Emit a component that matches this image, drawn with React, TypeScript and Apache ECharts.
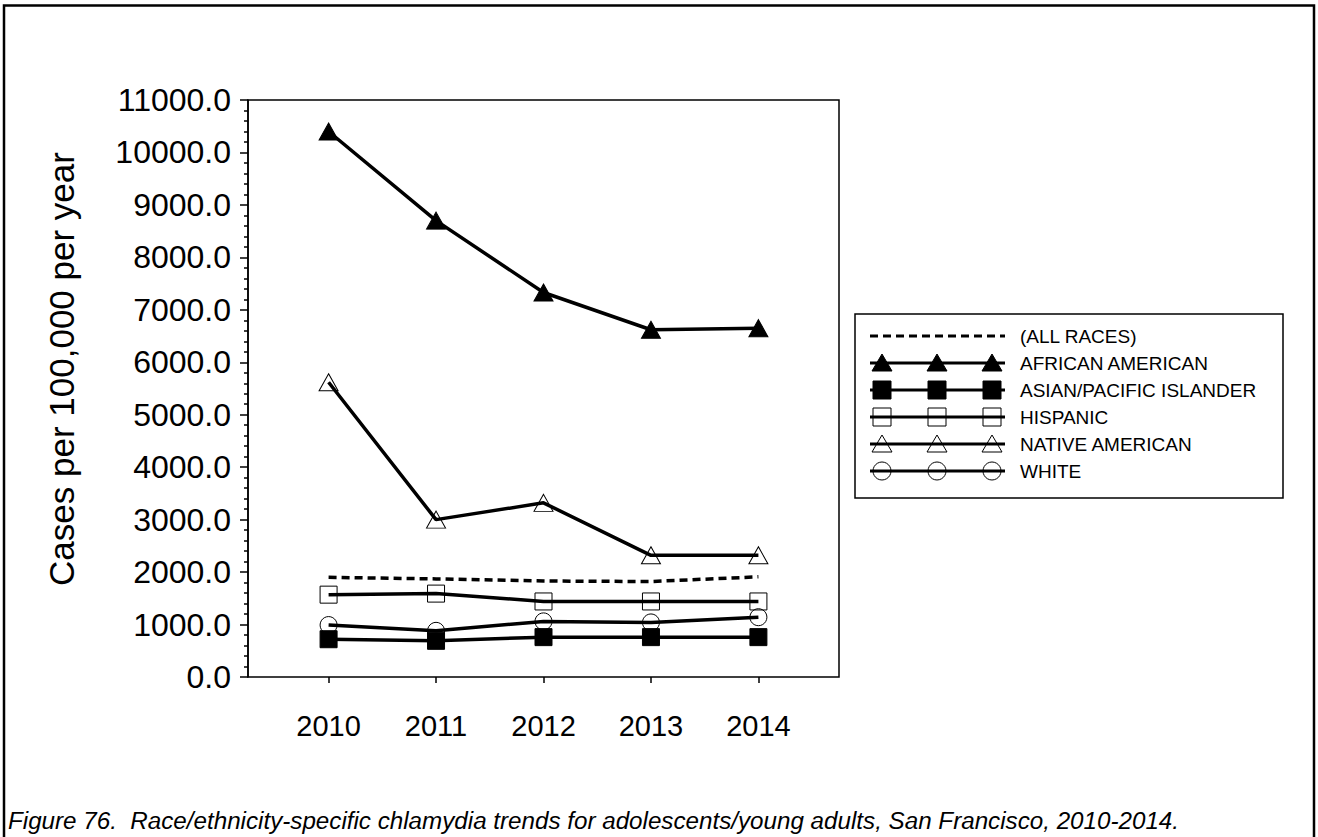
import React, { useEffect, useRef } from "react";
import * as echarts from "echarts";

const years = [2010, 2011, 2012, 2013, 2014];
const allRaces = [1900, 1870, 1830, 1820, 1910];
const africanAmerican = [10400, 8700, 7330, 6620, 6650];
const asianPacificIslander = [720, 690, 760, 760, 760];
const hispanic = [1570, 1590, 1440, 1440, 1440];
const nativeAmerican = [5620, 3000, 3320, 2320, 2320];
const white = [990, 880, 1060, 1040, 1140];

const yTicks = { min: 0, max: 11000, interval: 1000 };
const yTitle = "Cases per 100,000 per year";
const caption =
  "Figure 76.  Race/ethnicity-specific chlamydia trends for adolescents/young adults, San Francisco, 2010-2014.";

type Mark = "none" | "triangle" | "rect" | "circle";
const seriesDefs: { name: string; values: number[]; mark: Mark; filled: boolean; dashed: boolean }[] = [
  { name: "(ALL RACES)", values: allRaces, mark: "none", filled: false, dashed: true },
  { name: "AFRICAN AMERICAN", values: africanAmerican, mark: "triangle", filled: true, dashed: false },
  { name: "ASIAN/PACIFIC ISLANDER", values: asianPacificIslander, mark: "rect", filled: true, dashed: false },
  { name: "HISPANIC", values: hispanic, mark: "rect", filled: false, dashed: false },
  { name: "NATIVE AMERICAN", values: nativeAmerican, mark: "triangle", filled: false, dashed: false },
  { name: "WHITE", values: white, mark: "circle", filled: false, dashed: false },
];

const FONT = "'Liberation Sans', Arial, sans-serif";

function symbolSize(mark: Mark): number | number[] {
  if (mark === "triangle") return [19, 17];
  if (mark === "rect") return [17, 17];
  if (mark === "circle") return 17;
  return 0;
}

function legendMarker(mark: Mark, filled: boolean, cx: number, cy: number): any {
  const style = filled
    ? { fill: "#000", stroke: "#000", lineWidth: 1 }
    : { fill: "rgba(0,0,0,0)", stroke: "#000", lineWidth: 1 };
  if (mark === "triangle") {
    return {
      type: "polygon",
      shape: { points: [[cx - 10, cy + 8], [cx + 10, cy + 8], [cx, cy - 9]] },
      style,
    };
  }
  if (mark === "rect") {
    return { type: "rect", shape: { x: cx - 9, y: cy - 9, width: 18, height: 18 }, style };
  }
  return { type: "circle", shape: { cx, cy, r: 9 }, style };
}

export default function App() {
  const ref = useRef<HTMLDivElement>(null);

  useEffect(() => {
    if (!ref.current) return;
    const chart = echarts.init(ref.current, null, { renderer: "svg" });

    const series = seriesDefs.map((s, i) => ({
      name: s.name,
      type: "line",
      data: years.map((y, k) => [y, s.values[k]]),
      symbol: s.mark === "none" ? "none" : s.mark,
      symbolSize: symbolSize(s.mark),
      showSymbol: s.mark !== "none",
      z: 2 + i,
      lineStyle: {
        color: "#000",
        width: 3.5,
        type: s.dashed ? [8, 5] : "solid",
      },
      itemStyle: {
        color: s.filled ? "#000" : "rgba(0,0,0,0)",
        borderColor: "#000",
        borderWidth: 1,
        opacity: 1,
      },
      emphasis: { disabled: true },
    }));

    // Legend box drawn as graphics
    const lgLeft = 855;
    const lgTop = 314;
    const lgW = 428;
    const lgH = 184;
    const rowY0 = 336;
    const rowStep = 27;
    const lineX1 = 870;
    const lineX2 = 1005;
    const markerXs = [882, 937, 992];
    const textX = 1020;

    const legendChildren: any[] = [
      {
        type: "rect",
        shape: { x: lgLeft, y: lgTop, width: lgW, height: lgH },
        style: { fill: "#fff", stroke: "#000", lineWidth: 1.5 },
      },
    ];
    seriesDefs.forEach((s, i) => {
      const cy = rowY0 + i * rowStep;
      legendChildren.push({
        type: "line",
        shape: { x1: lineX1, y1: cy, x2: lineX2, y2: cy },
        style: { stroke: "#000", lineWidth: 3, lineDash: s.dashed ? [8, 5] : null },
      });
      if (s.mark !== "none") {
        markerXs.forEach((mx) => legendChildren.push(legendMarker(s.mark, s.filled, mx, cy)));
      }
      legendChildren.push({
        type: "text",
        x: textX,
        y: cy,
        style: {
          text: s.name,
          fill: "#000",
          font: `19px ${FONT}`,
          verticalAlign: "middle",
          align: "left",
        },
      });
    });

    chart.setOption({
      animation: false,
      backgroundColor: "#fff",
      grid: {
        left: 248,
        top: 100,
        width: 591,
        height: 577,
        show: true,
        borderColor: "#000",
        borderWidth: 1.5,
        backgroundColor: "rgba(0,0,0,0)",
      },
      xAxis: {
        type: "value",
        min: 2009.25,
        max: 2014.75,
        offset: 3,
        axisLine: { show: false },
        axisTick: {
          show: true,
          customValues: years,
          length: 6,
          lineStyle: { color: "#000", width: 1.5 },
        },
        axisLabel: {
          customValues: years,
          formatter: (v: number) => String(v),
          color: "#000",
          fontSize: 29,
          fontFamily: FONT,
          margin: 31,
        },
        splitLine: { show: false },
      },
      yAxis: {
        type: "value",
        min: yTicks.min,
        max: yTicks.max,
        interval: yTicks.interval,
        axisLine: { show: true, lineStyle: { color: "#000", width: 1.5 } },
        axisTick: { show: true, length: 8, lineStyle: { color: "#000", width: 1.5 } },
        minorTick: { show: true, splitNumber: 5, length: 4, lineStyle: { color: "#000", width: 1.5 } },
        axisLabel: {
          formatter: (v: number) => v.toFixed(1),
          color: "#000",
          fontSize: 32,
          fontFamily: FONT,
          margin: 17,
        },
        splitLine: { show: false },
        minorSplitLine: { show: false },
      },
      series,
      graphic: [
        {
          type: "rect",
          shape: { x: 4, y: 5.5, width: 1310, height: 900 },
          style: { fill: "rgba(0,0,0,0)", stroke: "#000", lineWidth: 2.5 },
          silent: true,
          z: 100,
        },
        {
          type: "text",
          x: 61,
          y: 369,
          rotation: Math.PI / 2,
          style: {
            text: yTitle,
            fill: "#000",
            font: `35px ${FONT}`,
            align: "center",
            verticalAlign: "middle",
          },
        },
        {
          type: "text",
          x: 8,
          y: 820,
          style: {
            text: caption,
            fill: "#000",
            font: `italic 24.2px ${FONT}`,
            align: "left",
            verticalAlign: "middle",
          },
        },
        { type: "group", children: legendChildren },
      ],
    });

    return () => chart.dispose();
  }, []);

  return (
    <div
      ref={ref}
      style={{ position: "absolute", left: 0, top: 0, width: 1318, height: 837 }}
    />
  );
}
